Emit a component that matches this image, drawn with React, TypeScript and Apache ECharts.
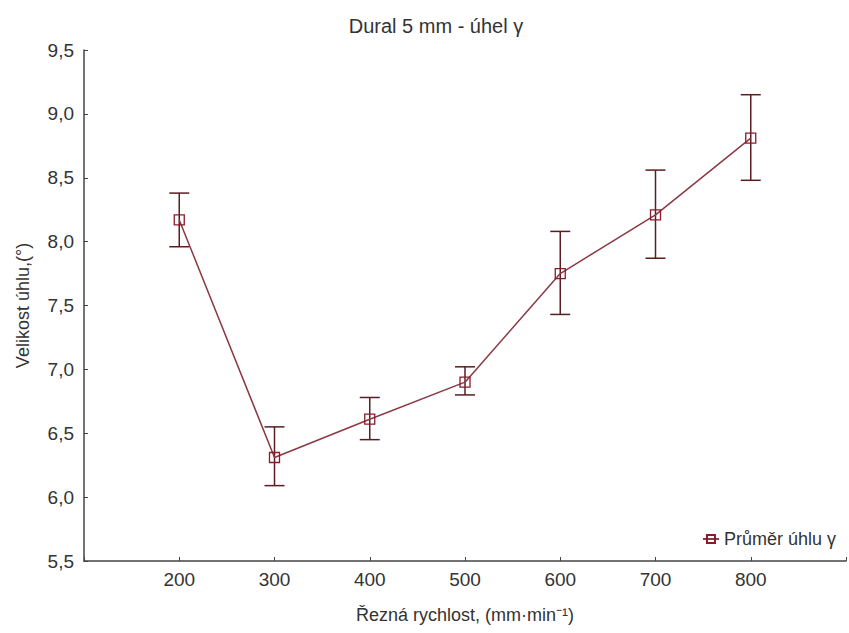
import React, { useEffect, useRef } from "react";
import * as echarts from "echarts";

// Cutting speed (mm·min⁻¹) and measured angle γ: mean with lower/upper error limits
const speeds = [200, 300, 400, 500, 600, 700, 800];
const meanAngle = [8.17, 6.31, 6.61, 6.9, 7.75, 8.21, 8.81];
const lowerAngle = [7.96, 6.09, 6.45, 6.8, 7.43, 7.87, 8.48];
const upperAngle = [8.38, 6.55, 6.78, 7.02, 8.08, 8.56, 9.15];

const seriesName = "Průměr úhlu γ";
const FONT = "'Liberation Sans', Arial, sans-serif";
const TEXT = "#333333";
const AXIS = "#444444";
const LINE = "#8a3a44";
const MARK = "#8b1a2a";
const BAR = "#5a1e22";

export default function App() {
  const ref = useRef<HTMLDivElement>(null);

  useEffect(() => {
    if (!ref.current) return;
    const chart = echarts.init(ref.current, undefined, { renderer: "svg" });

    const errData = speeds.map((s, i) => [s, lowerAngle[i], upperAngle[i]]);
    const lineData = speeds.map((s, i) => [s, meanAngle[i]]);

    chart.setOption({
      animation: false,
      backgroundColor: "#ffffff",
      textStyle: { fontFamily: FONT },
      title: {
        text: "Dural 5 mm - úhel γ",
        left: 431,
        top: 11,
        textAlign: "center",
        textStyle: { fontFamily: FONT, fontSize: 20, fontWeight: "normal", color: TEXT },
      },
      legend: {
        data: [seriesName],
        right: 8,
        top: 525,
        itemWidth: 16,
        itemHeight: 10,
        itemGap: 6,
        textStyle: { fontFamily: FONT, fontSize: 18, color: TEXT },
      },
      grid: { left: 84, right: -3, top: 50, bottom: 72, containLabel: false },
      xAxis: {
        type: "value",
        min: 100,
        max: 900,
        interval: 100,
        name: "Řezná rychlost, (mm·min⁻¹)",
        nameLocation: "middle",
        nameGap: 45,
        nameTextStyle: { fontFamily: FONT, fontSize: 18, color: TEXT },
        axisLine: { show: true, lineStyle: { color: AXIS, width: 1.5 } },
        axisTick: { show: true, inside: true, length: 4, lineStyle: { color: AXIS } },
        axisLabel: {
          fontFamily: FONT,
          fontSize: 19,
          color: TEXT,
          margin: 9,
          formatter: (v: number) => (v === 100 || v === 900 ? "" : String(v)),
        },
        splitLine: { show: false },
      },
      yAxis: {
        type: "value",
        min: 5.5,
        max: 9.5,
        interval: 0.5,
        name: "Velikost úhlu,(°)",
        nameLocation: "middle",
        nameGap: 52,
        nameTextStyle: { fontFamily: FONT, fontSize: 18, color: TEXT },
        axisLine: { show: true, lineStyle: { color: AXIS, width: 1.5 } },
        axisTick: { show: true, inside: true, length: 4, lineStyle: { color: AXIS } },
        axisLabel: {
          fontFamily: FONT,
          fontSize: 19,
          color: TEXT,
          margin: 10,
          formatter: (v: number) => v.toFixed(1).replace(".", ","),
        },
        splitLine: { show: false },
      },
      series: [
        {
          type: "custom",
          name: "errorbars",
          z: 2,
          data: errData,
          encode: { x: 0, y: [1, 2] },
          renderItem: (params: any, api: any) => {
            const x = api.value(0);
            const pLo = api.coord([x, api.value(1)]);
            const pHi = api.coord([x, api.value(2)]);
            const hw = 10;
            const style = { stroke: BAR, lineWidth: 1.5 };
            return {
              type: "group",
              children: [
                { type: "line", shape: { x1: pHi[0], y1: pHi[1], x2: pLo[0], y2: pLo[1] }, style },
                { type: "line", shape: { x1: pHi[0] - hw, y1: pHi[1], x2: pHi[0] + hw, y2: pHi[1] }, style },
                { type: "line", shape: { x1: pLo[0] - hw, y1: pLo[1], x2: pLo[0] + hw, y2: pLo[1] }, style },
              ],
            };
          },
        },
        {
          type: "line",
          name: seriesName,
          z: 3,
          data: lineData,
          symbol: "rect",
          symbolSize: 10,
          lineStyle: { color: LINE, width: 1.5 },
          itemStyle: { color: "rgba(0,0,0,0)", borderColor: MARK, borderWidth: 1.3 },
          emphasis: { disabled: true },
        },
      ],
    });

    return () => chart.dispose();
  }, []);

  return (
    <div
      ref={ref}
      style={{ position: "absolute", left: 0, top: 0, width: 849, height: 633 }}
    />
  );
}
